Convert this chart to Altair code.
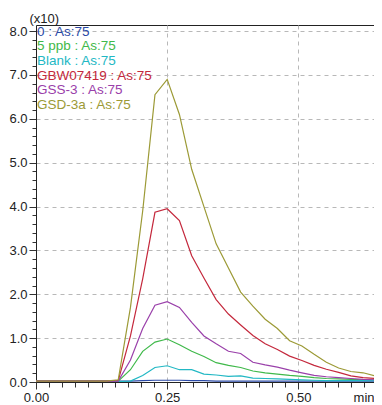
import altair as alt
import pandas as pd

# ---- data ----
times = [0.0, 0.0467, 0.0933, 0.1333, 0.1567, 0.18, 0.2033, 0.2267, 0.25, 0.2733,
         0.2967, 0.32, 0.3433, 0.3667, 0.39, 0.4133, 0.4367, 0.46, 0.4833, 0.5067,
         0.53, 0.5533, 0.5767, 0.60, 0.6233, 0.6467, 0.67]

names = ["0 : As:75", "5 ppb : As:75", "Blank : As:75", "GBW07419 : As:75",
         "GSS-3 : As:75", "GSD-3a : As:75"]
colors = ["#2b4aa6", "#3fb94a", "#22b8c4", "#c4283c", "#9a40aa", "#9c9a36"]

s_zero = [0.02, 0.02, 0.02, 0.02, 0.02, 0.02, 0.03, 0.04, 0.04, 0.04, 0.03, 0.03, 0.02,
          0.02, 0.02, 0.02, 0.02, 0.02, 0.02, 0.02, 0.02, 0.02, 0.02, 0.02, 0.02, 0.02, 0.02]
s_5ppb = [0.02, 0.02, 0.02, 0.02, 0.02, 0.28, 0.70, 0.91, 0.98, 0.85, 0.70, 0.58, 0.44,
          0.38, 0.33, 0.25, 0.21, 0.18, 0.15, 0.13, 0.10, 0.08, 0.07, 0.06, 0.05, 0.05, 0.04]
s_blank = [0.02, 0.02, 0.02, 0.02, 0.01, 0.02, 0.15, 0.33, 0.37, 0.28, 0.28, 0.18, 0.16,
           0.13, 0.14, 0.09, 0.08, 0.07, 0.06, 0.05, 0.04, 0.03, 0.03, 0.03, 0.03, 0.03, 0.03]
s_gbw = [0.02, 0.02, 0.02, 0.02, 0.03, 1.05, 2.35, 3.87, 3.95, 3.68, 2.88, 2.37, 1.88,
         1.55, 1.30, 1.06, 0.87, 0.74, 0.59, 0.49, 0.38, 0.29, 0.22, 0.14, 0.10, 0.08, 0.06]
s_gss = [0.02, 0.02, 0.02, 0.02, 0.02, 0.50, 1.22, 1.75, 1.83, 1.70, 1.36, 1.05, 0.87,
         0.70, 0.65, 0.45, 0.39, 0.34, 0.27, 0.21, 0.15, 0.12, 0.10, 0.08, 0.06, 0.05, 0.04]
s_gsd = [0.02, 0.02, 0.02, 0.02, 0.05, 1.70, 3.90, 6.55, 6.90, 6.10, 4.85, 4.00, 3.15,
         2.60, 2.05, 1.73, 1.43, 1.22, 0.94, 0.82, 0.63, 0.45, 0.32, 0.24, 0.21, 0.14, 0.14]

series = [s_zero, s_5ppb, s_blank, s_gbw, s_gss, s_gsd]

y_ticks = [round(i * 0.2, 1) for i in range(41)]
x_ticks = [round(i * 0.025, 3) for i in range(26)]

rows = []
for n, vals in zip(names, series):
    for t, v in zip(times, vals):
        rows.append({"name": n, "t": t, "v": v})
df = pd.DataFrame(rows)
leg = pd.DataFrame({"name": names, "row": list(range(len(names)))})

FONT = "Liberation Sans"
y_major = "abs(datum.value - round(datum.value)) < 0.001"
x_major = "abs(datum.value*4 - round(datum.value*4)) < 0.001"

W, H = 338, 357

color = alt.Color("name:N", scale=alt.Scale(domain=names, range=colors), legend=None)

lines = alt.Chart(df).mark_line(strokeWidth=1.2, clip=True).encode(
    x=alt.X("t:Q", scale=alt.Scale(domain=[0, 0.6441], nice=False),
            axis=alt.Axis(values=x_ticks, title="min", titleX=W, titleY=9,
                          titleAlign="right", titleBaseline="top",
                          titleFontWeight="normal", titleFontSize=13, titleFont=FONT,
                          titleColor="#222",
                          labelExpr=f"{x_major} ? format(datum.value, '.2f') : ''",
                          labelOverlap=False, labelFlush=False, labelFont=FONT,
                          labelFontSize=13, labelColor="#222", labelPadding=2,
                          tickSize={"condition": {"test": x_major, "value": 7}, "value": 5},
                          tickColor="#333",
                          gridOpacity={"condition": {"test": x_major, "value": 1}, "value": 0},
                          gridDash=[4, 4], gridColor="#b8b8b8", domainColor="#222")),
    y=alt.Y("v:Q", scale=alt.Scale(domain=[0, 8.14], nice=False),
            axis=alt.Axis(values=y_ticks, title="(x10)", titleAngle=0, titleX=-7,
                          titleY=-3, titleAlign="left", titleBaseline="alphabetic",
                          titleFontWeight="normal", titleFontSize=13, titleFont=FONT,
                          titleColor="#222",
                          labelExpr=f"{y_major} ? format(datum.value, '.1f') : ''",
                          labelOverlap=False, labelFlush=False, labelFont=FONT,
                          labelFontSize=13, labelColor="#222", labelPadding=2,
                          tickSize={"condition": {"test": y_major, "value": 7}, "value": 4},
                          tickColor="#333",
                          gridOpacity={"condition": {"test": y_major, "value": 1}, "value": 0},
                          gridDash=[4, 4], gridColor="#b8b8b8", domainColor="#222")),
    color=color,
    detail="name:N",
)

legend_text = alt.Chart(leg).mark_text(align="left", baseline="middle",
                                        font=FONT, fontSize=13.5).encode(
    x=alt.value(1),
    y=alt.Y("row:Q", scale=alt.Scale(domain=[0, 5], range=[6.7, 80]), axis=None),
    text="name:N",
    color=color,
)

chart = alt.layer(lines, legend_text).resolve_scale(y="independent").properties(
    width=W, height=H,
    autosize=alt.AutoSizeParams(type="none"),
    padding={"left": 28, "top": 17, "right": 0, "bottom": 23},
).configure_view(stroke="#222", strokeWidth=1)

chart.save("out.html", embed_options={"renderer": "svg", "actions": False})
